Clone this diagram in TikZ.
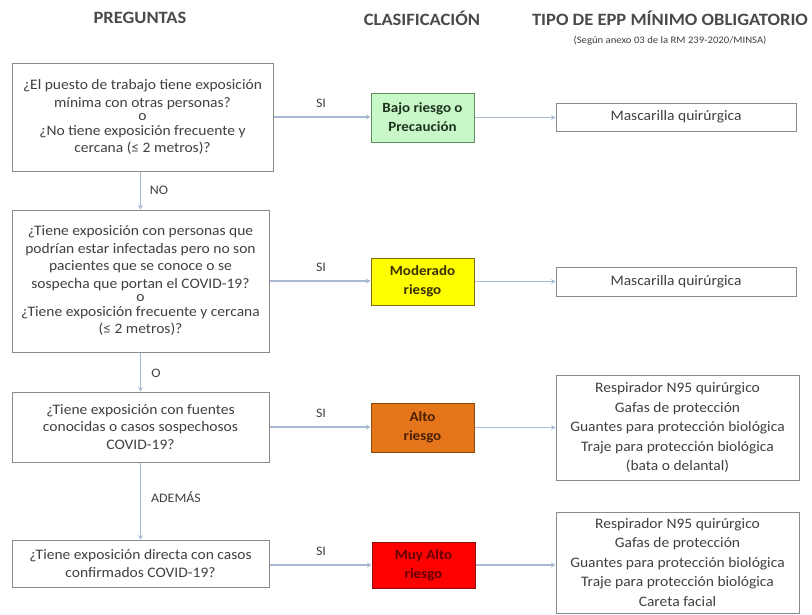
\documentclass[tikz,border=0pt]{standalone}
\usepackage{fontspec}
\setmainfont{Carlito}[FakeStretch=1.07]
\usetikzlibrary{arrows.meta}
\definecolor{lineblue}{HTML}{A7B9D3}
\definecolor{boxgray}{HTML}{8A8A8A}
\definecolor{txtgray}{HTML}{404040}
\definecolor{hdrgray}{HTML}{4A4A4A}
\definecolor{lowfill}{HTML}{C8F7C8}
\definecolor{lowdraw}{HTML}{5E8F5E}
\definecolor{lowtext}{HTML}{1E331E}
\definecolor{modfill}{HTML}{FFFF00}
\definecolor{moddraw}{HTML}{7F6F10}
\definecolor{modtext}{HTML}{3A3000}
\definecolor{altfill}{HTML}{E5751A}
\definecolor{altdraw}{HTML}{8F4A10}
\definecolor{alttext}{HTML}{4A2005}
\definecolor{muyfill}{HTML}{FF0000}
\definecolor{muydraw}{HTML}{8F1010}
\definecolor{muytext}{HTML}{600000}
\tikzset{
  qbox/.style={draw=boxgray, line width=1pt, fill=white, inner sep=0pt, align=center,
    text=txtgray, font=\fontsize{14.5}{17.5}\selectfont},
  cbox/.style={line width=1pt, inner sep=0pt, align=center, minimum width=103pt,
    font=\bfseries\fontsize{14}{19}\selectfont},
  ebox/.style={draw=boxgray, line width=1pt, fill=white, inner sep=0pt, align=center,
    text=txtgray, font=\fontsize{14.5}{19.5}\selectfont},
  conn/.style={draw=lineblue, line width=1.2pt, -{Stealth[length=4.5pt,width=5pt]}},
  lbl/.style={text=txtgray, font=\fontsize{13}{15}\selectfont, inner sep=0pt},
  hdr/.style={text=hdrgray, font=\bfseries\fontsize{17.3}{19}\selectfont, inner sep=0pt}
}
\begin{document}
\begin{tikzpicture}[x=1pt,y=-1pt]
\useasboundingbox (0,0) rectangle (812,614);
% headers
\node[hdr] (h1) at (140,18) {PREGUNTAS};
\node[hdr] (h2) at (422,18) {CLASIFICACIÓN};
\node[hdr] (h3) at (670,18) {TIPO DE EPP MÍNIMO OBLIGATORIO};
\node[text=txtgray, font=\fontsize{10}{11}\selectfont, inner sep=0pt] (h4) at (670,41) {(Según anexo 03 de la RM 239-2020/MINSA)};
% questions
\node[qbox, minimum width=261pt, minimum height=108pt] (q1) at (142.5,117)
 {¿El puesto de trabajo tiene exposición\\ mínima con otras personas?\\[-4pt] o\\[-3pt] ¿No tiene exposición frecuente y\\ cercana (≤ 2 metros)?};
\node[qbox, minimum width=257pt, minimum height=142pt] (q2) at (140.5,281)
 {¿Tiene exposición con personas que\\ podrían estar infectadas pero no son\\ pacientes que se conoce o se\\ sospecha que portan el COVID-19?\\[-4pt] o\\[-3pt] ¿Tiene exposición frecuente y cercana\\ (≤ 2 metros)?};
\node[qbox, minimum width=257pt, minimum height=70pt] (q3) at (140.5,427)
 {¿Tiene exposición con fuentes\\ conocidas o casos sospechosos\\ COVID-19?};
\node[qbox, minimum width=257pt, minimum height=47pt] (q4) at (140.5,563.5)
 {¿Tiene exposición directa con casos\\ confirmados COVID-19?};
% classification
\node[cbox, draw=lowdraw, fill=lowfill, text=lowtext, minimum height=49pt] (c1) at (422.5,117.5) {Bajo riesgo o\\ Precaución};
\node[cbox, draw=moddraw, fill=modfill, text=modtext, minimum height=47pt] (c2) at (422.5,281.5) {Moderado\\ riesgo};
\node[cbox, draw=altdraw, fill=altfill, text=alttext, minimum height=49pt] (c3) at (422.5,427.5) {Alto\\ riesgo};
\node[cbox, draw=muydraw, fill=muyfill, text=muytext, minimum height=46pt] (c4) at (423.5,565) {Muy Alto\\ riesgo};
% EPP
\node[ebox, minimum width=240pt, minimum height=28pt] (e1) at (676,117) {Mascarilla quirúrgica};
\node[ebox, minimum width=240pt, minimum height=29pt] (e2) at (676,282) {Mascarilla quirúrgica};
\node[ebox, minimum width=243pt, minimum height=105pt] (e3) at (677.5,427.5)
 {Respirador N95 quirúrgico\\ Gafas de protección\\ Guantes para protección biológica\\ Traje para protección biológica\\ (bata o delantal)};
\node[ebox, minimum width=243pt, minimum height=101pt] (e4) at (677.5,562.5)
 {Respirador N95 quirúrgico\\ Gafas de protección\\ Guantes para protección biológica\\ Traje para protección biológica\\ Careta facial};
% connectors
\draw[conn] (q1.east) -- (q1.east -| c1.west);
\draw[conn] (q2.east) -- (q2.east -| c2.west);
\draw[conn] (q3.east) -- (q3.east -| c3.west);
\draw[conn] (q4.east |- c4.west) -- (c4.west);
\draw[conn] (c1.east) -- (c1.east -| e1.west);
\draw[conn] (c2.east) -- (c2.east -| e2.west);
\draw[conn] (c3.east) -- (c3.east -| e3.west);
\draw[conn] (c4.east) -- (c4.east -| e4.west);
\draw[conn] (q1.south -| q2.north) -- (q2.north);
\draw[conn] (q2.south) -- (q3.north);
\draw[conn] (q3.south) -- (q4.north);
% labels
\node[lbl] (s1) at (321,103) {SI};
\node[lbl] (s2) at (321,267) {SI};
\node[lbl] (s3) at (321,413) {SI};
\node[lbl] (s4) at (321,551) {SI};
\node[lbl] (l1) at (159,190) {NO};
\node[lbl] (l2) at (156,373) {O};
\node[lbl] (l3) at (176,497) {ADEMÁS};
\end{tikzpicture}
\end{document}
